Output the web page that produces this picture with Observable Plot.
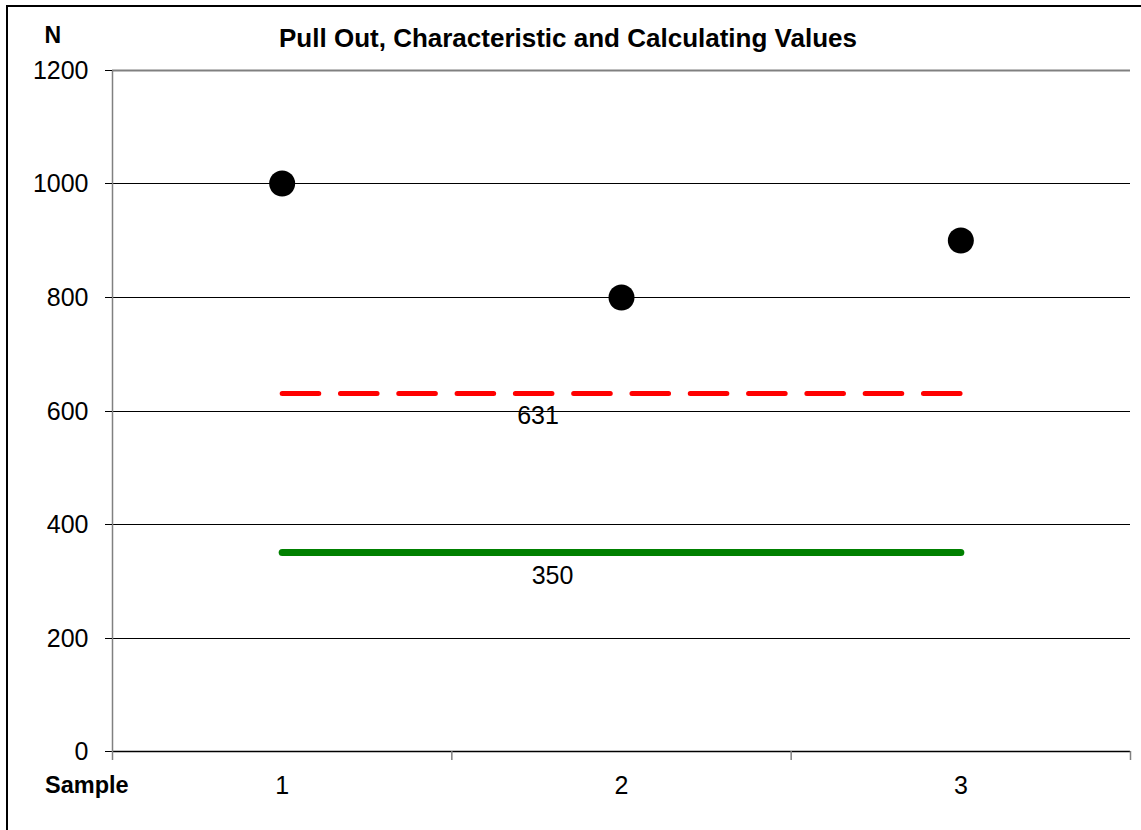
<!DOCTYPE html>
<html>
<head>
<meta charset="utf-8">
<script src="https://cdn.jsdelivr.net/npm/d3@7"></script>
<script src="https://cdn.jsdelivr.net/npm/@observablehq/plot@0.6"></script>
<style>
  html, body { margin: 0; padding: 0; background: #fff; overflow: hidden; }
  #wrap { position: relative; width: 1141px; height: 830px; overflow: hidden; font-family: "Liberation Sans", Arial, sans-serif; }
  #border { position: absolute; left: 6px; top: 5px; width: 1300px; height: 1000px; border: 2px solid #000; box-sizing: border-box; }
  .lbl { position: absolute; line-height: 1; white-space: nowrap; font-weight: bold; color: #000; }
  #chart { position: absolute; left: 0; top: 0; }
</style>
</head>
<body>
<div id="wrap">
  <div id="border"></div>
  <div id="chart"></div>
  <div class="lbl" id="title" style="font-size:26px; left:568px; top:24.6px; transform:translateX(-50%);">Pull Out, Characteristic and Calculating Values</div>
  <div class="lbl" style="font-size:23px; left:44.5px; top:23.5px;">N</div>
  <div class="lbl" style="font-size:23.5px; left:45px; top:773.5px;">Sample</div>
</div>
<script>
// ---- data ----
const samples = [1, 2, 3];
const pullOut = [1000, 800, 900];
const characteristicValue = 631;
const calculatingValue = 350;
const yTicks = [0, 200, 400, 600, 800, 1000, 1200];
const xTickLabels = ["1", "2", "3"];
const xBoundaries = [0.5, 1.5, 2.5, 3.5];

const points = samples.map((s, i) => ({ sample: s, value: pullOut[i] }));
const charLine = samples.map(s => ({ sample: s, value: characteristicValue }));
const calcLine = samples.map(s => ({ sample: s, value: calculatingValue }));

const chart = Plot.plot({
  width: 1141,
  height: 830,
  marginLeft: 112,
  marginRight: 11,
  marginTop: 70,
  marginBottom: 79,
  style: { fontFamily: "'Liberation Sans', Arial, sans-serif", background: "transparent", color: "#000" },
  x: { type: "linear", domain: [0.5, 3.5] },
  y: { domain: [0, 1200], round: true },
  marks: [
    Plot.ruleY(yTicks.filter(v => v > 0 && v < 1200), { stroke: "#000", strokeWidth: 1 }),
    Plot.ruleY([1200], { stroke: "#808080", strokeWidth: 2 }),
    Plot.ruleY([0], { stroke: "#000", strokeWidth: 1.5 }),
    Plot.ruleX([0.5], { y1: 0, y2: 1200, stroke: "#808080", strokeWidth: 1.5 }),
    Plot.axisY({ ticks: yTicks, tickSize: 7, tickPadding: 17, fontSize: 25, label: null, stroke: "#000", strokeOpacity: 1, tickFormat: d => String(d) }),
    Plot.axisX({ ticks: samples, tickSize: 0, tickPadding: 25, fontSize: 25, label: null, tickFormat: (d, i) => xTickLabels[i] }),
    Plot.axisX({ ticks: xBoundaries, tickSize: 9, tickFormat: () => "", label: null, stroke: "#808080", strokeWidth: 1.5, strokeOpacity: 1 }),
    Plot.lineY(charLine, { x: "sample", y: "value", stroke: "#ff0000", strokeWidth: 5, strokeDasharray: "36.6,21.7", strokeLinecap: "round" }),
    Plot.lineY(calcLine, { x: "sample", y: "value", stroke: "#008000", strokeWidth: 7, strokeLinecap: "round" }),
    Plot.text([characteristicValue], { x: () => 2, y: d => d, text: d => String(d), dx: -83.5, dy: 22.5, fontSize: 25, fill: "#000" }),
    Plot.text([calculatingValue], { x: () => 2, y: d => d, text: d => String(d), dx: -69, dy: 23.6, fontSize: 25, fill: "#000" }),
    Plot.dot(points, { x: "sample", y: "value", r: 13, fill: "#000", stroke: "none" })
  ]
});
document.getElementById("chart").appendChild(chart);
</script>
</body>
</html>
